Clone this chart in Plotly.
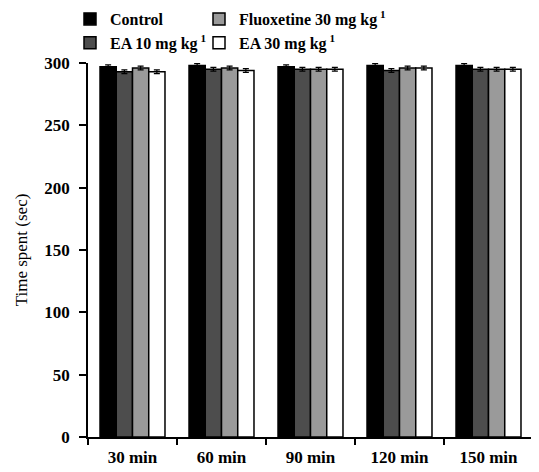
import plotly.graph_objects as go

categories = ["30 min", "60 min", "90 min", "120 min", "150 min"]
control = [297, 298, 297, 298, 298]
ea10 = [293, 295, 295, 294, 295]
fluox = [296, 296, 295, 296, 295]
ea30 = [293, 294, 295, 296, 295]
err_control = [1.5, 1.5, 1.5, 1.5, 1.5]
err_ea10 = [1.5, 1.5, 1.5, 1.5, 1.5]
err_fluox = [1.5, 1.5, 1.5, 1.5, 1.5]
err_ea30 = [1.5, 1.5, 1.5, 1.5, 1.5]

series = [
    ("Control", control, err_control, "#000000", "legend"),
    ("EA 10 mg kg<sup> 1</sup>", ea10, err_ea10, "#4d4d4d", "legend"),
    ("Fluoxetine 30 mg kg<sup> 1</sup>", fluox, err_fluox, "#9a9a9a", "legend2"),
    ("EA 30 mg kg<sup> 1</sup>", ea30, err_ea30, "#ffffff", "legend2"),
]

fig = go.Figure()
for name, vals, err, color, leg in series:
    fig.add_trace(go.Bar(
        x=categories, y=vals, name=name,
        marker=dict(color=color, line=dict(color="black", width=1.5)),
        error_y=dict(type="data", array=err, color="black", thickness=1.2, width=3),
        legend=leg,
    ))

W, H = 539, 472
ml, mr, mt, mb = 80, 14, 55, 43
pw, ph = W - ml - mr, H - mt - mb
legfont = dict(family="Liberation Serif", size=16, color="black", weight="bold")
leg_top = 1 + (mt + 6) / ph
fig.update_layout(
    width=W, height=H,
    margin=dict(l=ml, r=mr, t=mt, b=mb, autoexpand=False),
    plot_bgcolor="white", paper_bgcolor="white",
    barmode="group", bargap=0.27, bargroupgap=0,
    font=dict(family="Liberation Serif", size=16, color="black"),
    legend=dict(x=(62 - ml) / pw, y=leg_top, xanchor="left", yanchor="top",
                orientation="v", font=legfont, tracegroupgap=0, itemwidth=30,
                bgcolor="rgba(0,0,0,0)", borderwidth=0),
    legend2=dict(x=(191 - ml) / pw, y=leg_top, xanchor="left", yanchor="top",
                 orientation="v", font=legfont, tracegroupgap=0, itemwidth=30,
                 bgcolor="rgba(0,0,0,0)", borderwidth=0),
)
fig.update_xaxes(
    showline=True, linecolor="black", linewidth=1.5,
    ticks="outside", tickson="boundaries", ticklen=6, tickwidth=1.5, tickcolor="black",
    ticklabelstandoff=4,
    tickfont=dict(family="Liberation Serif", size=17, color="black", weight="bold"),
    showgrid=False,
)
fig.update_yaxes(
    range=[0, 300], dtick=50,
    showline=True, linecolor="black", linewidth=1.5,
    ticks="outside", ticklen=7, tickwidth=1.5, tickcolor="black",
    ticklabelstandoff=6,
    tickfont=dict(family="Liberation Serif", size=17, color="black", weight="bold"),
    showgrid=False, zeroline=False,
    title=dict(text="Time spent (sec)", font=dict(family="Liberation Serif", size=17, color="black"), standoff=12),
)
fig.write_html("out.html")
